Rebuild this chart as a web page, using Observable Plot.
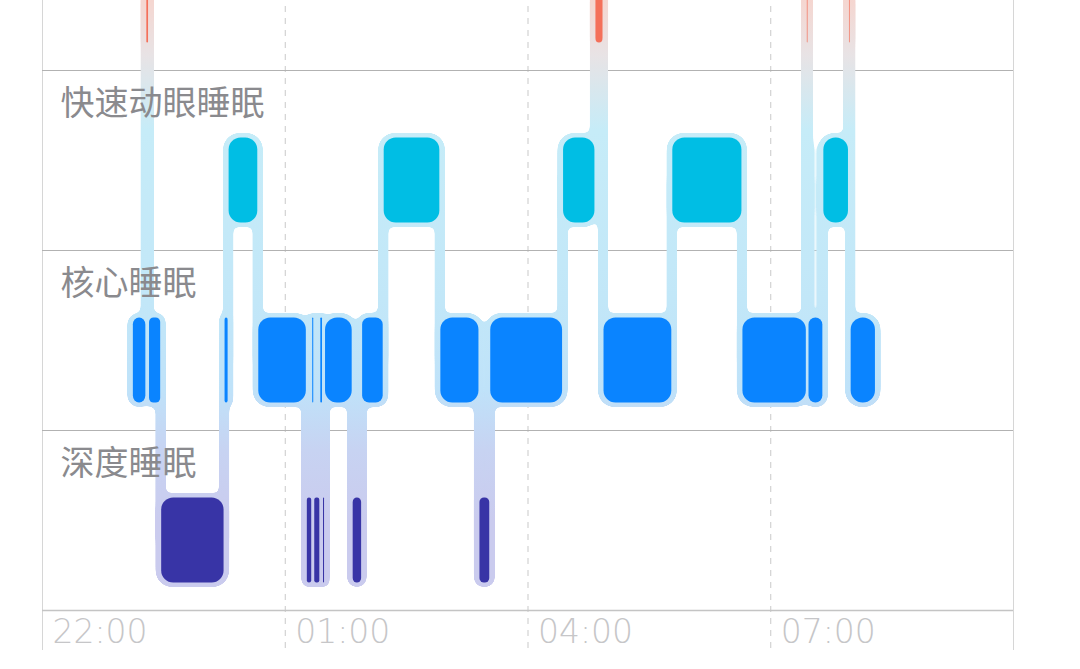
<!DOCTYPE html>
<html><head><meta charset="utf-8">
<script src="https://cdn.jsdelivr.net/npm/d3@7"></script>
<script src="https://cdn.jsdelivr.net/npm/@observablehq/plot@0.6"></script>
<style>
html,body{margin:0;padding:0;background:#fff;overflow:hidden;}
#chart svg{display:block;overflow:hidden;}
</style></head>
<body><div id="chart"></div>
<script>
// ---- data ----
const stageKeys   = ["awake", "rem", "core", "deep"];
const stageLabels = ["清醒", "快速动眼睡眠", "核心睡眠", "深度睡眠"];
const stageColors = ["#F4705A", "#00BEE4", "#0A84FF", "#3834A6"];

const segStage = ["core","awake","core","deep","core","rem","core","deep","core","deep",
                  "core","deep","core","deep","core","rem","core","deep","core","rem",
                  "awake","core","rem","core","awake","core","rem","awake","core"];
const segStart = ["23:07","23:17","23:19","23:28","00:15","00:18","00:40","01:16","01:20","01:21:30",
                  "01:26","01:28","01:29:30","01:50","01:57","02:13","02:55","03:24","03:32","04:26",
                  "04:50","04:56","05:47","06:39","07:26:45","07:28","07:39","07:58","07:59:15"];
const segEnd   = ["23:17","23:19","23:28","00:15","00:18","00:40","01:16","01:20","01:21:30","01:26",
                  "01:28","01:29:30","01:50","01:57","02:13","02:55","03:24","03:32","04:26","04:50",
                  "04:56","05:47","06:39","07:26:45","07:28","07:39","07:58","07:59:15","08:18"];

const tickTimes  = ["22:00", "01:00", "04:00", "07:00"];
const tickLabels = ["22:00", "01:00", "04:00", "07:00"];
const domainTimes = ["22:00", "10:00"];

// ---- helpers ----
function toDate(s) {
  const [h, m, sec = 0] = s.split(":").map(Number);
  return new Date(Date.UTC(2024, 0, h >= 12 ? 1 : 2, h, m, sec));
}
const levelOf = Object.fromEntries(stageKeys.map((k, i) => [k, i]));
const colorOf = Object.fromEntries(stageKeys.map((k, i) => [k, stageColors[i]]));

const segments = segStage.map((s, i) => {
  const start = toDate(segStart[i]), end = toDate(segEnd[i]);
  return {stage: s, level: levelOf[s], start, end, minutes: (end - start) / 60000};
});
const transitions = segments.slice(0, -1).map((d, i) => ({
  t: d.end, from: d.level, to: segments[i + 1].level
}));

const H = 669, ROW = 180;            // one stage row = 180px
const half = 42.5 / ROW;             // bar half height in level units
const bandOffset = 110 / ROW;        // band line above each level centre
const x0 = toDate(domainTimes[0]), x1 = toDate(domainTimes[1]);
const bandLines = [1, 2, 3, 4].map(l => l - bandOffset);
const labelRows = stageKeys.map((k, i) => ({level: i, text: stageLabels[i]})).filter(d => d.level > 0);

// corner radius by segment length (minutes) so narrow bars become pills
const radiusGroups = [[18, 1e9, 12], [10, 18, 7], [6, 10, 4.5], [3, 6, 2.2], [0, 3, 0.8]];

const haloMarks = radiusGroups.map(([a, b, r]) =>
  Plot.rect(segments, {filter: d => d.minutes >= a && d.minutes < b,
    x1: "start", x2: "end", y1: d => d.level - half, y2: d => d.level + half,
    fill: "url(#conn)", insetLeft: -5, insetRight: -5, insetTop: -4.5, insetBottom: -4.5, rx: r + 4, ry: r + 4}));
const barMarks = radiusGroups.map(([a, b, r]) =>
  Plot.rect(segments, {filter: d => d.minutes >= a && d.minutes < b,
    x1: "start", x2: "end", y1: d => d.level - half, y2: d => d.level + half,
    fill: d => colorOf[d.stage], insetLeft: 0.5, insetRight: 0.5, rx: r, ry: r}));

const chart = Plot.plot({
  width: 1080,
  height: H,
  margin: 0,
  style: {background: "#fff"},
  x: {type: "utc", domain: [x0, x1], range: [42, 1013], axis: null},
  y: {domain: [0, H / ROW], range: [0, H], axis: null},
  color: {type: "identity"},
  marks: [
    Plot.ruleX(tickTimes.slice(1).map(toDate), {y1: -0.3, y2: 650 / ROW, stroke: "#c9c9c9", strokeWidth: 1, strokeDasharray: "6,6"}),
    Plot.ruleX([x0, x1], {y1: -0.3, y2: 650 / ROW, stroke: "#d6d6d6", strokeWidth: 1}),
    Plot.ruleY(bandLines.slice(0, 3), {x1: x0, x2: x1, stroke: "#b2b2b2", strokeWidth: 1}),
    Plot.ruleY(bandLines.slice(3), {x1: x0, x2: x1, stroke: "#c4c4c4", strokeWidth: 1.6}),
    ...haloMarks,
    Plot.rect(transitions, {x1: "t", x2: "t", y1: "from", y2: "to",
      fill: "url(#conn)", insetLeft: -5, insetRight: -5}),
    ...barMarks,
    Plot.text(labelRows, {x: () => x0, y: d => d.level - 0.425, text: "text", textAnchor: "start", dx: 18,
      fontSize: 34, fill: "#8a8a8e", fontFamily: "'Noto Sans CJK SC', sans-serif"}),
    Plot.text(tickTimes.map(toDate), {x: d => d, y: 632 / ROW, text: (d, i) => tickLabels[i], textAnchor: "start", dx: 10,
      fontSize: 33, fill: "#c6c6c8", fontWeight: 200, fontFamily: "'DejaVu Sans', sans-serif"})
  ]
});

// gradient for halos/connectors and a "goo" filter that rounds their joins
const NS = "http://www.w3.org/2000/svg";
const defs = document.createElementNS(NS, "defs");
const stops = [[0, "#F5D6D0"], [55, "#E8E3E5"], [130, "#C6ECF8"], [300, "#C2E7F8"], [390, "#BFE2F9"], [450, "#C7D3F2"], [520, "#CACBEE"]];
defs.innerHTML = `<linearGradient id="conn" gradientUnits="userSpaceOnUse" x1="0" y1="0" x2="0" y2="${H}">` +
  stops.map(([y, c]) => `<stop offset="${(y / H).toFixed(4)}" stop-color="${c}"/>`).join("") +
  `</linearGradient>` +
  `<filter id="goo" filterUnits="userSpaceOnUse" x="0" y="-60" width="1080" height="${H + 120}">` +
  `<feGaussianBlur in="SourceGraphic" stdDeviation="3" result="blur"/>` +
  `<feColorMatrix in="blur" mode="matrix" values="1 0 0 0 0  0 1 0 0 0  0 0 1 0 0  0 0 0 18 -8" result="goo"/>` +
  `<feComposite in="SourceGraphic" in2="goo" operator="atop"/>` +
  `</filter>`;
chart.insertBefore(defs, chart.firstChild);
const lightGroups = Array.from(chart.querySelectorAll('g[fill="url(#conn)"]'));
if (lightGroups.length) {
  const wrap = document.createElementNS(NS, "g");
  wrap.setAttribute("filter", "url(#goo)");
  lightGroups[0].parentNode.insertBefore(wrap, lightGroups[0]);
  lightGroups.forEach(g => wrap.appendChild(g));
}
document.getElementById("chart").appendChild(chart);
</script>
</body></html>
